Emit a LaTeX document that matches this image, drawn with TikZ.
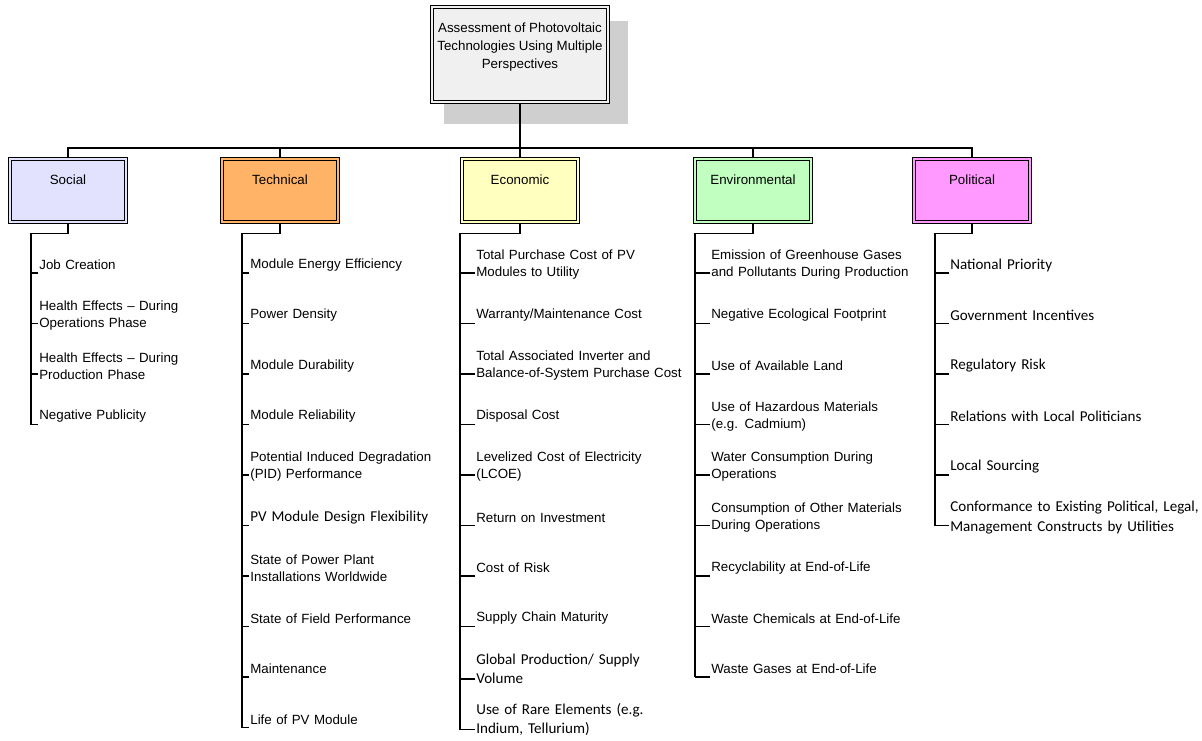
\documentclass[tikz,border=0pt]{standalone}
\usepackage{fontspec}
\setmainfont{Liberation Sans}
\newfontfamily\calfont{Carlito}
\usetikzlibrary{positioning,backgrounds}
\definecolor{rootgray}{HTML}{F0F0F0}
\definecolor{shadowgray}{HTML}{CFCFCF}
\definecolor{socialblue}{HTML}{E2E2FF}
\definecolor{techorange}{HTML}{FFB366}
\definecolor{econyellow}{HTML}{FFFFC0}
\definecolor{envgreen}{HTML}{C0FFC0}
\definecolor{polpink}{HTML}{FF99FF}
\begin{document}
\begin{tikzpicture}[x=0.75pt,y=-0.75pt,node distance=0pt,line width=0.8pt,every node/.style={font=\fontsize{10}{12.8}\selectfont},rootbox/.style={draw,fill=rootgray,double=rootgray,double distance=1.6pt,line width=0.6pt,minimum width=132.2pt,minimum height=71.5pt,align=center,font=\fontsize{10}{13.5}\selectfont},catbox/.style={draw,fill=#1,double=#1,double distance=1.6pt,line width=0.6pt,minimum width=87.2pt,inner ysep=0pt,text height=19.4pt,text depth=28.1pt},leaf/.style={text width=200pt,align=left,minimum height=37.875pt,inner sep=1pt,outer sep=0pt},calleaf/.style={leaf,font=\calfont\fontsize{11.3}{14.5}\selectfont},branch/.style={line width=1.2pt}]
\useasboundingbox (0,0) rectangle (1202,740);
\node[rootbox] (R) at (520,54.5) {Assessment of Photovoltaic\\Technologies Using Multiple\\Perspectives\\\mbox{}};
\begin{scope}[on background layer]
\fill[shadowgray] ([shift={(13,15)}]R.north west) rectangle ([shift={(19,21)}]R.south east);
\end{scope}
\coordinate (B) at (520,148);
% perspectives
\node[catbox=socialblue] (Soc) at (68,190.5) {Social};
\node[catbox=techorange] (Tec) at (280,190.5) {Technical};
\node[catbox=econyellow] (Eco) at (520,190.5) {Economic};
\node[catbox=envgreen] (Env) at (753,190.5) {Environmental};
\node[catbox=polpink] (Pol) at (972,190.5) {Political};
\draw (R.south)--(B);\draw (Soc.north)|-(B)-|(Pol.north);\draw (Tec.north)--(Tec.north|-B);\draw (Eco.north)--(B);\draw (Env.north)--(Env.north|-B);
% social
\node[leaf,anchor=west] (Soc1) at (38,265) {Job Creation};
\node[leaf,below=of Soc1] (Soc2) {Health Effects -- During\\Operations Phase};
\node[leaf,below=of Soc2] (Soc3) {Health Effects -- During\\Production Phase};
\node[leaf,below=of Soc3] (Soc4) {Negative Publicity};
% technical
\node[leaf,anchor=west] (Tec1) at (249,265) {Module Energy Efficiency};
\node[leaf,below=of Tec1] (Tec2) {Power Density};
\node[leaf,below=of Tec2] (Tec3) {Module Durability};
\node[leaf,below=of Tec3] (Tec4) {Module Reliability};
\node[leaf,below=of Tec4] (Tec5) {Potential Induced Degradation\\(PID) Performance};
\node[calleaf,below=of Tec5] (Tec6) {PV Module Design Flexibility};
\node[leaf,below=of Tec6] (Tec7) {State of Power Plant\\Installations Worldwide};
\node[leaf,below=of Tec7] (Tec8) {State of Field Performance};
\node[leaf,below=of Tec8] (Tec9) {Maintenance};
\node[leaf,below=of Tec9] (Tec10) {Life of PV Module};
% economic
\node[leaf,anchor=west] (Eco1) at (475,265) {Total Purchase Cost of PV\\Modules to Utility};
\node[leaf,below=of Eco1] (Eco2) {Warranty/Maintenance Cost};
\node[leaf,below=of Eco2] (Eco3) {Total Associated Inverter and\\Balance-of-System Purchase Cost};
\node[leaf,below=of Eco3] (Eco4) {Disposal Cost};
\node[leaf,below=of Eco4] (Eco5) {Levelized Cost of Electricity\\(LCOE)};
\node[leaf,below=of Eco5] (Eco6) {Return on Investment};
\node[leaf,below=of Eco6] (Eco7) {Cost of Risk};
\node[leaf,below=of Eco7] (Eco8) {Supply Chain Maturity};
\node[calleaf,below=of Eco8] (Eco9) {Global Production/ Supply\\Volume};
\node[calleaf,below=of Eco9] (Eco10) {Use of Rare Elements (e.g.\\Indium, Tellurium)};
% environmental
\node[leaf,anchor=west] (Env1) at (710,265) {Emission of Greenhouse Gases\\and Pollutants During Production};
\node[leaf,below=of Env1] (Env2) {Negative Ecological Footprint};
\node[leaf,below=of Env2] (Env3) {Use of Available Land};
\node[leaf,below=of Env3] (Env4) {Use of Hazardous Materials\\(e.g. Cadmium)};
\node[leaf,below=of Env4] (Env5) {Water Consumption During\\Operations};
\node[leaf,below=of Env5] (Env6) {Consumption of Other Materials\\During Operations};
\node[leaf,below=of Env6] (Env7) {Recyclability at End-of-Life};
\node[leaf,below=of Env7] (Env8) {Waste Chemicals at End-of-Life};
\node[leaf,below=of Env8] (Env9) {Waste Gases at End-of-Life};
% political
\node[calleaf,anchor=west] (Pol1) at (949,265) {National Priority};
\node[calleaf,below=of Pol1] (Pol2) {Government Incentives};
\node[calleaf,below=of Pol2] (Pol3) {Regulatory Risk};
\node[calleaf,below=of Pol3] (Pol4) {Relations with Local Politicians};
\node[calleaf,below=of Pol4] (Pol5) {Local Sourcing};
\node[calleaf,below=of Pol5] (Pol6) {Conformance to Existing Political, Legal,\\Management Constructs by Utilities};
% branches
\draw[branch] (Soc.south)--++(0,11)-|([shift={(-7,8)}]Soc4.west);
\draw[branch] (Tec.south)--++(0,11)-|([shift={(-7,8)}]Tec10.west);
\draw[branch] (Eco.south)--++(0,11)-|([shift={(-15,10)}]Eco10.west);
\draw[branch] (Env.south)--++(0,11)-|([shift={(-15,8)}]Env9.west);
\draw[branch] (Pol.south)--++(0,11)-|([shift={(-14,8)}]Pol6.west);
\draw([yshift=-6pt]Soc1.west)--++(-7,0);\draw([yshift=-6pt]Soc2.west)--++(-7,0);\draw([yshift=-6pt]Soc3.west)--++(-7,0);\draw([yshift=-6pt]Soc4.west)--++(-7,0);
\draw([yshift=-6pt]Tec1.west)--++(-7,0);\draw([yshift=-6pt]Tec2.west)--++(-7,0);\draw([yshift=-6pt]Tec3.west)--++(-7,0);\draw([yshift=-6pt]Tec4.west)--++(-7,0);\draw([yshift=-6pt]Tec5.west)--++(-7,0);\draw([yshift=-6pt]Tec6.west)--++(-7,0);\draw([yshift=-6pt]Tec7.west)--++(-7,0);\draw([yshift=-6pt]Tec8.west)--++(-7,0);\draw([yshift=-6pt]Tec9.west)--++(-7,0);\draw([yshift=-6pt]Tec10.west)--++(-7,0);
\draw([yshift=-6pt]Eco1.west)--++(-15,0);\draw([yshift=-6pt]Eco2.west)--++(-15,0);\draw([yshift=-6pt]Eco3.west)--++(-15,0);\draw([yshift=-6pt]Eco4.west)--++(-15,0);\draw([yshift=-6pt]Eco5.west)--++(-15,0);\draw([yshift=-6pt]Eco6.west)--++(-15,0);\draw([yshift=-6pt]Eco7.west)--++(-15,0);\draw([yshift=-6pt]Eco8.west)--++(-15,0);\draw([yshift=-7.5pt]Eco9.west)--++(-15,0);\draw([yshift=-7.5pt]Eco10.west)--++(-15,0);
\draw([yshift=-6pt]Env1.west)--++(-15,0);\draw([yshift=-6pt]Env2.west)--++(-15,0);\draw([yshift=-6pt]Env3.west)--++(-15,0);\draw([yshift=-6pt]Env4.west)--++(-15,0);\draw([yshift=-6pt]Env5.west)--++(-15,0);\draw([yshift=-6pt]Env6.west)--++(-15,0);\draw([yshift=-6pt]Env7.west)--++(-15,0);\draw([yshift=-6pt]Env8.west)--++(-15,0);\draw([yshift=-6pt]Env9.west)--++(-15,0);
\draw([yshift=-6pt]Pol1.west)--++(-14,0);\draw([yshift=-6pt]Pol2.west)--++(-14,0);\draw([yshift=-6pt]Pol3.west)--++(-14,0);\draw([yshift=-6pt]Pol4.west)--++(-14,0);\draw([yshift=-6pt]Pol5.west)--++(-14,0);\draw([yshift=-6pt]Pol6.west)--++(-14,0);
\end{tikzpicture}
\end{document}
